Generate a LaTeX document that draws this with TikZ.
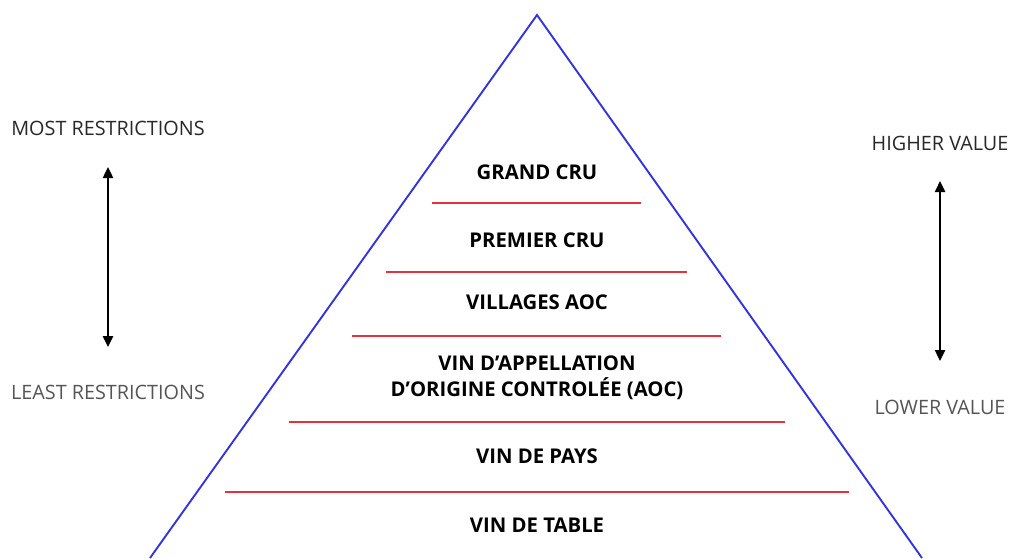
\documentclass[tikz,border=0pt]{standalone}
\usepackage{fontspec}
\setmainfont{Open Sans}
\usetikzlibrary{arrows.meta}
\definecolor{pyrblue}{RGB}{52,52,220}
\definecolor{tierred}{RGB}{228,50,60}
\definecolor{txtdark}{RGB}{40,40,40}
\definecolor{txtgray}{RGB}{85,85,85}

\begin{document}
\begin{tikzpicture}[x=1pt,y=-1pt,
  tier/.style={font=\fontsize{20.3}{26}\selectfont\bfseries, text=black, align=center},
  side/.style={font=\fontsize{19.8}{24}\selectfont, text=txtdark},
  sidelow/.style={font=\fontsize{19.8}{24}\selectfont, text=txtgray},
  dbl/.style={{Triangle[width=10pt,length=11pt]}-{Triangle[width=10pt,length=11pt]}, line width=2.4pt}]
\useasboundingbox (0,0) rectangle (1010,558);
\draw[pyrblue, line width=1.9pt, line join=miter] (150,558) -- (537,15) -- (922,558);
\foreach \y/\w in {203/104.5, 272/150.5, 336/184.5, 422/248, 492/312}
  \draw[tierred, line width=1.8pt] (536.5-\w,\y) -- (536.5+\w,\y);
\node[tier] (gc) at (537,172) {GRAND CRU};
\node[tier] (pc) at (537,240) {PREMIER CRU};
\node[tier] (va) at (537,302) {VILLAGES AOC};
\node[tier] (aoc) at (537,378) {VIN D’APPELLATION\\D’ORIGINE CONTROLÉE (AOC)};
\node[tier] (vp) at (537,456) {VIN DE PAYS};
\node[tier] (vt) at (537,525) {VIN DE TABLE};
\node[side] (most) at (108,128) {MOST RESTRICTIONS};
\node[sidelow] (least) at (108,392) {LEAST RESTRICTIONS};
\node[side] (high) at (940,143) {HIGHER VALUE};
\node[sidelow] (low) at (940,407) {LOWER VALUE};
\coordinate (l1) at (108,167);
\coordinate (l2) at (108,347);
\coordinate (r1) at (940,181);
\coordinate (r2) at (940,361);
\draw[dbl] (l1) -- (l2);
\draw[dbl] (r1) -- (r2);
\end{tikzpicture}
\end{document}
